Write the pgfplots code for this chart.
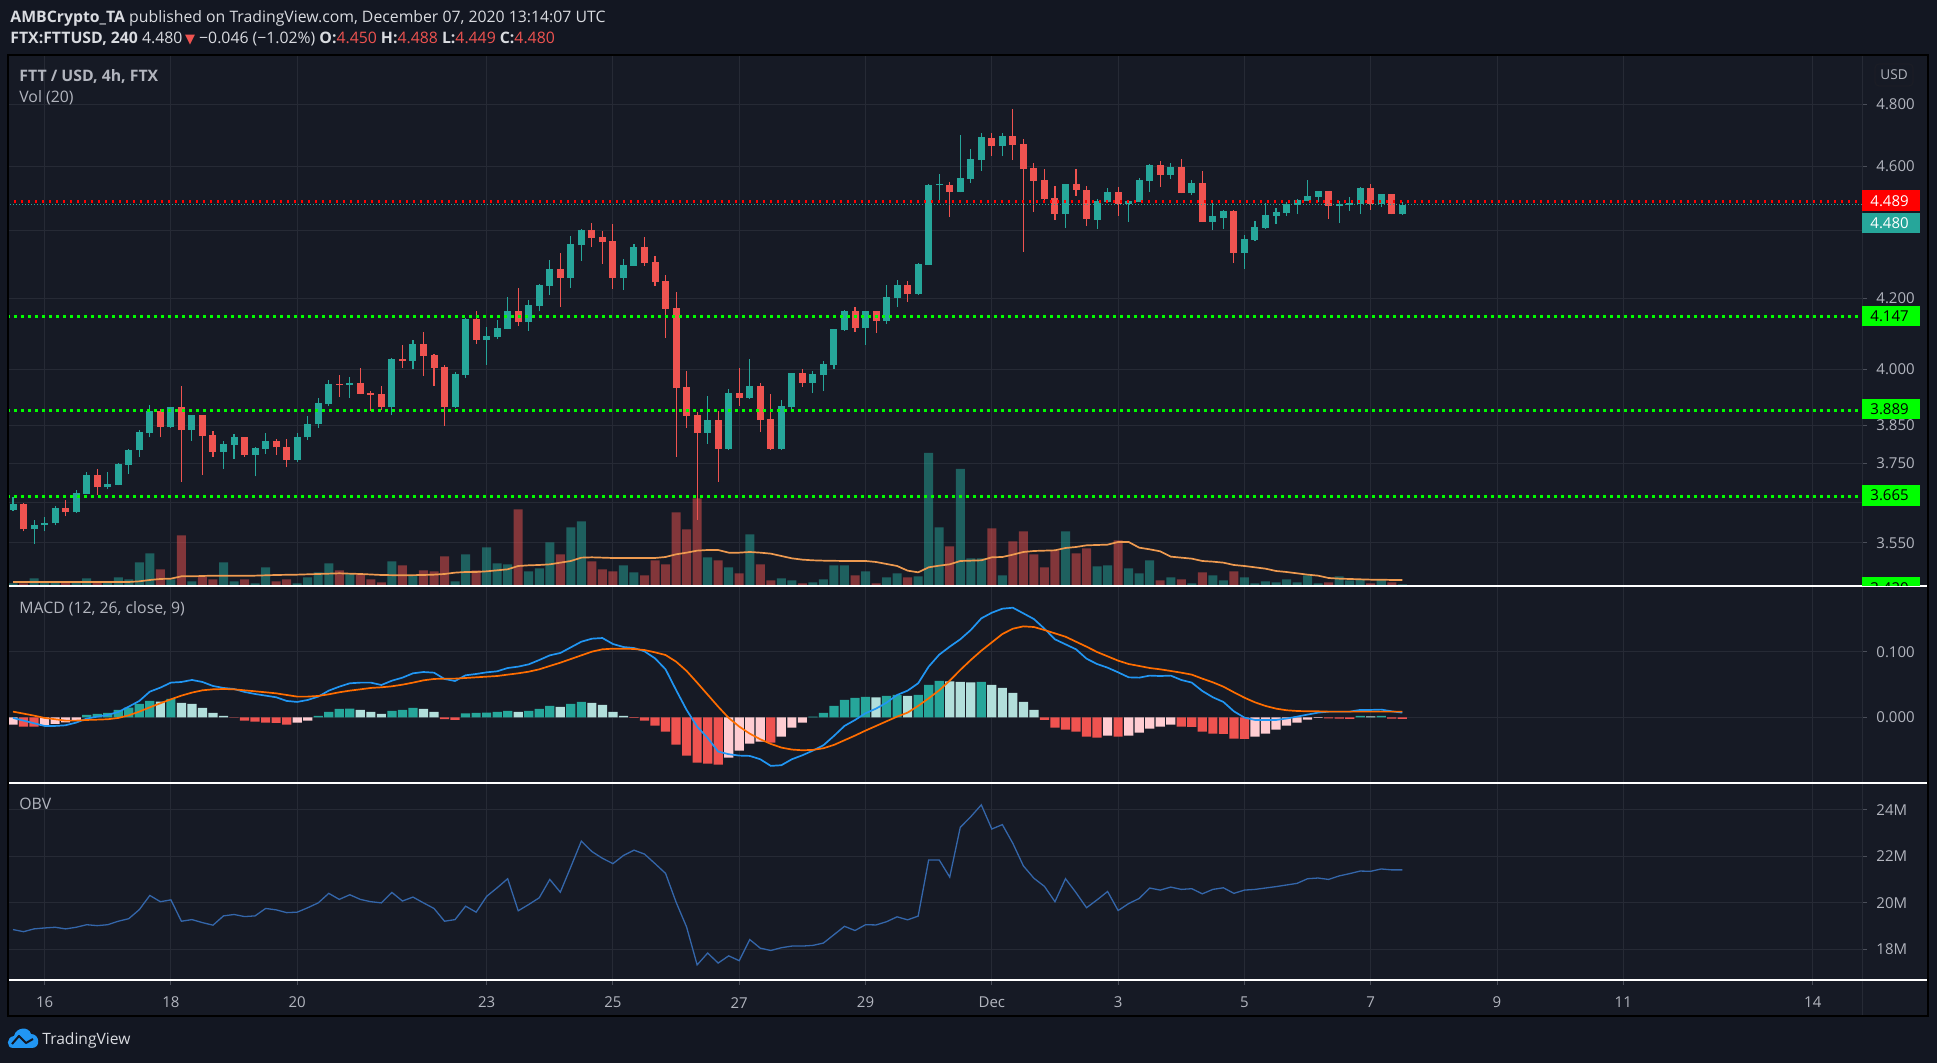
\documentclass[border=0pt]{standalone}
\usepackage{fontspec}
\setmainfont{Open Sans}
\newfontfamily\dejavu{DejaVu Sans}
\usepackage{pgfplots}
\usepackage{pgfplotstable}
\pgfplotsset{compat=1.18}

\definecolor{bgc}{HTML}{131722}
\definecolor{panec}{HTML}{161A25}
\definecolor{gridc}{HTML}{262A35}
\definecolor{tickc}{HTML}{4A4E59}
\definecolor{txtc}{HTML}{B2B5BE}
\definecolor{hdrc}{HTML}{D9DBE0}
\definecolor{upc}{HTML}{26A69A}
\definecolor{dnc}{HTML}{EF5350}
\definecolor{hgc}{HTML}{26A69A}
\definecolor{hlc}{HTML}{B2DFDB}
\definecolor{hpc}{HTML}{FFCDD2}
\definecolor{hrc}{HTML}{EF5350}
\definecolor{macdc}{HTML}{2196F3}
\definecolor{sigc}{HTML}{FF6D00}
\definecolor{obvc}{HTML}{3466AA}
\definecolor{vmac}{HTML}{EE9A50}
\definecolor{lvlc}{HTML}{00FF00}
\definecolor{redl}{HTML}{FF0000}
\definecolor{logoc}{HTML}{2196F3}

% up candles: k = 4h bars from 16 Nov 00:00, o h l c, v = volume (arbitrary units)
\pgfplotstableread{
k o h l c v
-3 3.632 3.663 3.629 3.646 8
-1 3.583 3.607 3.548 3.594 23
0 3.593 3.614 3.578 3.599 10
1 3.598 3.642 3.593 3.636 10
3 3.625 3.681 3.624 3.674 10
4 3.672 3.727 3.671 3.720 23
6 3.688 3.727 3.684 3.697 10
7 3.695 3.751 3.693 3.748 26
8 3.746 3.787 3.723 3.784 20
9 3.783 3.837 3.767 3.831 71
10 3.830 3.903 3.817 3.887 98
12 3.845 3.899 3.843 3.897 20
14 3.838 3.877 3.809 3.876 14
17 3.780 3.808 3.736 3.800 71
18 3.798 3.826 3.762 3.818 14
20 3.772 3.793 3.716 3.790 8
21 3.788 3.829 3.775 3.808 56
24 3.759 3.829 3.754 3.818 8
25 3.817 3.874 3.811 3.853 26
26 3.851 3.922 3.843 3.909 41
27 3.906 3.971 3.901 3.960 68
29 3.958 3.979 3.922 3.963 38
33 3.898 4.031 3.877 4.028 74
35 4.023 4.081 4.001 4.070 32
39 3.898 3.993 3.895 3.987 14
40 3.985 4.144 3.976 4.141 95
42 4.081 4.118 4.012 4.093 116
43 4.090 4.138 4.084 4.115 68
44 4.112 4.204 4.111 4.164 65
46 4.132 4.196 4.107 4.181 44
47 4.178 4.242 4.163 4.239 53
48 4.236 4.312 4.210 4.286 131
50 4.260 4.384 4.231 4.360 176
51 4.357 4.405 4.310 4.402 194
55 4.259 4.316 4.225 4.298 62
56 4.295 4.360 4.294 4.351 41
63 3.829 3.927 3.800 3.863 86
65 3.787 3.946 3.784 3.935 56
67 3.922 4.028 3.920 3.955 155
70 3.787 3.917 3.784 3.901 23
71 3.898 3.991 3.887 3.990 17
73 3.963 3.996 3.935 3.987 11
74 3.985 4.023 3.941 4.015 20
75 4.012 4.113 4.001 4.112 62
76 4.109 4.167 4.107 4.164 62
78 4.115 4.165 4.068 4.164 44
80 4.135 4.239 4.126 4.204 26
81 4.201 4.254 4.175 4.239 38
83 4.213 4.304 4.210 4.301 29
84 4.298 4.543 4.297 4.541 399
85 4.540 4.576 4.491 4.543 176
87 4.519 4.700 4.518 4.563 351
88 4.561 4.655 4.547 4.622 83
89 4.619 4.706 4.585 4.693 83
91 4.664 4.706 4.632 4.696 32
97 4.451 4.545 4.408 4.544 164
100 4.433 4.498 4.405 4.491 59
101 4.488 4.532 4.487 4.519 62
103 4.482 4.495 4.427 4.491 53
104 4.488 4.563 4.487 4.557 38
105 4.554 4.607 4.519 4.604 77
107 4.572 4.610 4.560 4.597 26
109 4.516 4.557 4.510 4.547 8
111 4.427 4.491 4.402 4.445 32
112 4.439 4.464 4.405 4.461 17
114 4.334 4.387 4.286 4.375 26
115 4.372 4.430 4.369 4.411 8
116 4.408 4.485 4.405 4.448 14
117 4.445 4.470 4.420 4.457 11
118 4.454 4.488 4.445 4.482 20
119 4.479 4.498 4.451 4.495 11
120 4.491 4.557 4.490 4.507 32
121 4.504 4.523 4.488 4.522 8
123 4.476 4.491 4.423 4.482 29
124 4.479 4.504 4.461 4.485 17
125 4.482 4.535 4.451 4.532 20
127 4.482 4.514 4.473 4.513 20
129 4.450 4.488 4.449 4.480 5
}\tblup

\pgfplotstableread{
k o h l c v
-2 3.646 3.648 3.578 3.583 8
2 3.636 3.656 3.615 3.625 10
5 3.720 3.735 3.669 3.688 11
11 3.887 3.893 3.817 3.845 50
13 3.897 3.955 3.703 3.838 152
15 3.876 3.877 3.721 3.822 28
16 3.824 3.834 3.767 3.780 20
19 3.818 3.819 3.767 3.772 20
22 3.808 3.813 3.772 3.791 14
23 3.792 3.813 3.739 3.759 20
28 3.960 3.985 3.925 3.957 47
30 3.963 4.004 3.932 3.933 35
31 3.935 3.941 3.887 3.930 20
32 3.933 3.955 3.890 3.898 11
34 4.028 4.068 4.004 4.023 62
36 4.070 4.104 3.982 4.037 47
37 4.040 4.041 3.955 4.004 44
38 4.006 4.012 3.847 3.898 89
41 4.141 4.164 4.070 4.081 47
45 4.164 4.231 4.121 4.132 230
49 4.286 4.334 4.175 4.260 95
52 4.402 4.423 4.351 4.378 74
53 4.381 4.399 4.301 4.366 50
54 4.369 4.420 4.228 4.259 44
57 4.351 4.381 4.295 4.304 32
58 4.307 4.325 4.236 4.248 77
59 4.251 4.269 4.087 4.170 65
60 4.173 4.220 3.766 3.949 221
61 3.952 3.996 3.842 3.874 170
62 3.877 3.885 3.607 3.829 263
64 3.863 3.887 3.702 3.787 77
66 3.935 4.004 3.901 3.922 38
68 3.955 3.963 3.831 3.863 65
69 3.866 3.933 3.784 3.787 17
72 3.990 4.001 3.952 3.963 8
77 4.164 4.175 4.104 4.115 32
79 4.164 4.165 4.101 4.135 8
82 4.239 4.251 4.190 4.213 26
86 4.541 4.551 4.442 4.519 119
90 4.690 4.706 4.632 4.664 173
92 4.696 4.785 4.619 4.668 134
93 4.671 4.687 4.337 4.591 164
94 4.594 4.610 4.457 4.554 95
95 4.557 4.591 4.488 4.498 56
96 4.501 4.538 4.433 4.451 107
98 4.544 4.591 4.507 4.526 98
99 4.526 4.538 4.414 4.436 113
102 4.519 4.535 4.445 4.482 137
106 4.604 4.616 4.535 4.572 17
108 4.597 4.622 4.515 4.516 20
110 4.547 4.585 4.426 4.427 41
113 4.461 4.462 4.304 4.334 44
122 4.522 4.523 4.436 4.476 11
126 4.532 4.544 4.464 4.482 8
128 4.513 4.514 4.450 4.451 11
}\tbldn

\pgfplotstableread{
k ma
-3 12
0 12
3 12
6 12
8 12
9 14
10 18
11 21
12 22
13 29
14 29
16 31
18 31
20 31
22 33
24 34
26 36
28 38
30 36
32 33
34 32
36 33
37 34
38 36
39 40
40 42
41 42
42 44
43 47
44 50
45 60
46 62
47 63
48 65
49 70
50 75
51 85
52 86
54 84
56 84
58 84
59 87
60 95
61 100
62 106
63 108
64 108
65 100
66 100
67 102
68 100
69 97
70 90
71 83
72 79
73 77
74 76
76 75
78 75
79 72
80 66
81 60
82 46
83 41
84 56
85 61
86 65
87 75
88 76
89 77
90 86
91 87
92 94
93 102
94 105
95 106
96 107
97 114
98 117
99 122
100 123
101 124
102 132
103 132
104 115
105 110
106 104
107 88
108 85
109 82
110 75
111 73
112 70
113 63
114 60
115 56
116 52
117 45
118 42
119 38
120 34
121 31
122 24
123 22
124 21
125 20
126 19
127 19
128 18
129 18
}\tblvma

\pgfplotstableread{
k m s
-3 -0.0010 0.0086
-2 -0.0051 0.0056
-1 -0.0091 0.0025
0 -0.0132 -0.0010
1 -0.0132 -0.0030
2 -0.0122 -0.0051
3 -0.0081 -0.0051
4 -0.0020 -0.0041
5 0.0010 -0.0036
6 0.0036 -0.0030
7 0.0081 -0.0010
8 0.0162 0.0030
9 0.0249 0.0086
10 0.0391 0.0152
11 0.0452 0.0213
12 0.0528 0.0274
13 0.0538 0.0330
14 0.0569 0.0376
15 0.0538 0.0411
16 0.0477 0.0426
17 0.0447 0.0431
18 0.0431 0.0426
19 0.0386 0.0411
20 0.0355 0.0396
21 0.0330 0.0381
22 0.0305 0.0365
23 0.0249 0.0340
24 0.0234 0.0315
25 0.0264 0.0315
26 0.0315 0.0325
27 0.0406 0.0350
28 0.0467 0.0381
29 0.0518 0.0406
30 0.0528 0.0426
31 0.0528 0.0447
32 0.0492 0.0457
33 0.0558 0.0472
34 0.0604 0.0497
35 0.0670 0.0528
36 0.0690 0.0563
37 0.0680 0.0584
38 0.0584 0.0589
39 0.0553 0.0589
40 0.0640 0.0599
41 0.0660 0.0609
42 0.0685 0.0619
43 0.0701 0.0629
44 0.0751 0.0650
45 0.0772 0.0670
46 0.0807 0.0695
47 0.0873 0.0731
48 0.0944 0.0782
49 0.0980 0.0832
50 0.1066 0.0888
51 0.1152 0.0944
52 0.1198 0.1000
53 0.1208 0.1036
54 0.1117 0.1046
55 0.1071 0.1046
56 0.1056 0.1041
57 0.1005 0.1025
58 0.0898 0.0990
59 0.0731 0.0949
60 0.0416 0.0848
61 0.0112 0.0706
62 -0.0142 0.0528
63 -0.0315 0.0345
64 -0.0523 0.0162
65 -0.0563 -0.0010
66 -0.0584 -0.0142
67 -0.0589 -0.0249
68 -0.0640 -0.0335
69 -0.0741 -0.0406
70 -0.0731 -0.0462
71 -0.0640 -0.0492
72 -0.0579 -0.0503
73 -0.0508 -0.0497
74 -0.0426 -0.0472
75 -0.0284 -0.0421
76 -0.0132 -0.0350
77 -0.0041 -0.0279
78 0.0061 -0.0203
79 0.0132 -0.0132
80 0.0223 -0.0061
81 0.0340 0.0010
82 0.0406 0.0071
83 0.0518 0.0173
84 0.0772 0.0289
85 0.0954 0.0411
86 0.1076 0.0558
87 0.1188 0.0721
88 0.1330 0.0873
89 0.1508 0.1015
90 0.1594 0.1142
91 0.1655 0.1269
92 0.1670 0.1350
93 0.1584 0.1386
94 0.1497 0.1376
95 0.1350 0.1330
96 0.1188 0.1279
97 0.1112 0.1228
98 0.1036 0.1152
99 0.0893 0.1076
100 0.0812 0.0995
101 0.0756 0.0929
102 0.0685 0.0863
103 0.0609 0.0812
104 0.0604 0.0782
105 0.0635 0.0751
106 0.0629 0.0731
107 0.0635 0.0706
108 0.0569 0.0680
109 0.0528 0.0650
110 0.0401 0.0589
111 0.0305 0.0533
112 0.0234 0.0467
113 0.0091 0.0381
114 -0.0005 0.0299
115 -0.0041 0.0228
116 -0.0041 0.0173
117 -0.0041 0.0132
118 -0.0020 0.0107
119 0.0010 0.0096
120 0.0041 0.0091
121 0.0071 0.0091
122 0.0086 0.0086
123 0.0086 0.0086
124 0.0086 0.0086
125 0.0112 0.0086
126 0.0112 0.0086
127 0.0117 0.0086
128 0.0091 0.0086
129 0.0071 0.0086
}\tblmacd

% histogram: g = rising above 0, l = falling above 0, p = rising below 0, r = falling below 0
\pgfplotstableread{
k g l p r
-3 nan nan -0.0112 nan
-2 nan nan nan -0.0142
-1 nan nan nan -0.0142
0 nan nan -0.0132 nan
1 nan nan -0.0102 nan
2 nan nan -0.0076 nan
3 nan nan -0.0041 nan
4 0.0036 nan nan nan
5 0.0051 nan nan nan
6 0.0066 nan nan nan
7 0.0112 nan nan nan
8 0.0147 nan nan nan
9 0.0203 nan nan nan
10 0.0249 nan nan nan
11 nan 0.0239 nan nan
12 0.0279 nan nan nan
13 nan 0.0218 nan nan
14 nan 0.0203 nan nan
15 nan 0.0142 nan nan
16 nan 0.0066 nan nan
17 nan 0.0020 nan nan
18 nan nan nan -0.0005
19 nan nan nan -0.0051
20 nan nan nan -0.0066
21 nan nan nan -0.0081
22 nan nan nan -0.0086
23 nan nan nan -0.0112
24 nan nan -0.0081 nan
25 nan nan -0.0051 nan
26 0.0020 nan nan nan
27 0.0081 nan nan nan
28 0.0127 nan nan nan
29 0.0132 nan nan nan
30 nan 0.0112 nan nan
31 nan 0.0081 nan nan
32 nan 0.0051 nan nan
33 0.0096 nan nan nan
34 0.0112 nan nan nan
35 0.0142 nan nan nan
36 nan 0.0127 nan nan
37 nan 0.0081 nan nan
38 nan nan nan -0.0030
39 nan nan nan -0.0041
40 0.0061 nan nan nan
41 0.0066 nan nan nan
42 0.0071 nan nan nan
43 0.0081 nan nan nan
44 0.0096 nan nan nan
45 nan 0.0081 nan nan
46 0.0096 nan nan nan
47 0.0127 nan nan nan
48 0.0173 nan nan nan
49 nan 0.0157 nan nan
50 0.0203 nan nan nan
51 0.0234 nan nan nan
52 nan 0.0218 nan nan
53 nan 0.0188 nan nan
54 nan 0.0081 nan nan
55 nan 0.0020 nan nan
56 nan nan nan -0.0010
57 nan nan nan -0.0051
58 nan nan nan -0.0127
59 nan nan nan -0.0218
60 nan nan nan -0.0416
61 nan nan nan -0.0584
62 nan nan nan -0.0691
63 nan nan nan -0.0706
64 nan nan nan -0.0721
65 nan nan -0.0615 nan
66 nan nan -0.0508 nan
67 nan nan -0.0401 nan
68 nan nan -0.0371 nan
69 nan nan nan -0.0386
70 nan nan -0.0295 nan
71 nan nan -0.0157 nan
72 nan nan -0.0081 nan
73 0.0010 nan nan nan
74 0.0066 nan nan nan
75 0.0173 nan nan nan
76 0.0264 nan nan nan
77 0.0295 nan nan nan
78 0.0310 nan nan nan
79 nan 0.0305 nan nan
80 0.0325 nan nan nan
81 0.0340 nan nan nan
82 nan 0.0325 nan nan
83 0.0340 nan nan nan
84 0.0493 nan nan nan
85 0.0554 nan nan nan
86 nan 0.0549 nan nan
87 nan 0.0538 nan nan
88 nan 0.0533 nan nan
89 0.0538 nan nan nan
90 nan 0.0493 nan nan
91 nan 0.0447 nan nan
92 nan 0.0371 nan nan
93 nan 0.0234 nan nan
94 nan 0.0112 nan nan
95 nan nan nan -0.0041
96 nan nan nan -0.0157
97 nan nan nan -0.0188
98 nan nan nan -0.0218
99 nan nan nan -0.0295
100 nan nan nan -0.0310
101 nan nan -0.0279 nan
102 nan nan nan -0.0295
103 nan nan -0.0279 nan
104 nan nan -0.0234 nan
105 nan nan -0.0173 nan
106 nan nan -0.0142 nan
107 nan nan -0.0112 nan
108 nan nan nan -0.0142
109 nan nan nan -0.0147
110 nan nan nan -0.0218
111 nan nan nan -0.0249
112 nan nan nan -0.0254
113 nan nan nan -0.0325
114 nan nan nan -0.0330
115 nan nan -0.0295 nan
116 nan nan -0.0249 nan
117 nan nan -0.0188 nan
118 nan nan -0.0127 nan
119 nan nan -0.0081 nan
120 nan nan -0.0036 nan
121 nan nan -0.0010 nan
122 nan nan nan -0.0015
123 nan nan nan -0.0020
124 nan nan nan -0.0025
125 0.0020 nan nan nan
126 nan 0.0015 nan nan
127 0.0020 nan nan nan
128 nan nan nan -0.0020
129 nan nan nan -0.0025
}\tblhist

\pgfplotstableread{
k v
-3 18.85
-2 18.76
-1 18.88
0 18.92
1 18.95
2 18.88
3 18.95
4 19.06
5 19.02
6 19.06
7 19.21
8 19.32
9 19.71
10 20.32
11 20.05
12 20.13
13 19.21
14 19.28
15 19.15
16 19.04
17 19.44
18 19.50
19 19.41
20 19.44
21 19.76
22 19.70
23 19.58
24 19.60
25 19.79
26 20.00
27 20.41
28 20.15
29 20.35
30 20.15
31 20.05
32 20.00
33 20.45
34 20.08
35 20.25
36 20.00
37 19.76
38 19.21
39 19.28
40 19.86
41 19.60
42 20.28
43 20.65
44 21.04
45 19.66
46 19.93
47 20.22
48 21.01
49 20.46
50 21.55
51 22.66
52 22.21
53 21.92
54 21.69
55 22.04
56 22.27
57 22.10
58 21.69
59 21.27
60 20.03
61 18.96
62 17.33
63 17.84
64 17.41
65 17.72
66 17.51
67 18.42
68 18.05
69 17.95
70 18.07
71 18.14
72 18.14
73 18.17
74 18.27
75 18.63
76 18.99
77 18.81
78 19.06
79 19.05
80 19.19
81 19.40
82 19.27
83 19.43
84 21.85
85 21.85
86 21.11
87 23.25
88 23.71
89 24.22
90 23.18
91 23.37
92 22.56
93 21.59
94 21.06
95 20.71
96 20.05
97 21.04
98 20.44
99 19.79
100 20.13
101 20.49
102 19.67
103 19.97
104 20.19
105 20.64
106 20.55
107 20.68
108 20.58
109 20.61
110 20.39
111 20.58
112 20.65
113 20.41
114 20.55
115 20.58
116 20.64
117 20.70
118 20.77
119 20.84
120 21.04
121 21.07
122 21.01
123 21.16
124 21.26
125 21.37
126 21.36
127 21.46
128 21.42
129 21.42
}\tblobv

\pgfplotsset{
  tv/.style={
    scale only axis, width=927.5pt,
    xmin=-3.572, xmax=172.68,
    axis line style={draw=none},
    xtick={0,12,24,42,54,66,78,90,102,114,126,138,150,168},
    xticklabels={},
    xmajorgrids, ymajorgrids,
    grid style={gridc, line width=0.5pt},
    tick align=outside, major tick length=2.5pt,
    ytick style={tickc, line width=0.5pt},
    ytick pos=right, yticklabel pos=right,
    yticklabel style={font=\fontsize{7.5}{8}\selectfont, text=txtc, anchor=west, inner sep=0pt, xshift=4.5pt},
  },
  ov/.style={scale only axis, width=927.5pt, xmin=-3.572, xmax=172.68, hide axis},
  wick/.style={only marks, mark=*, mark size=0.1pt, mark options={draw opacity=0, fill opacity=0},
    error bars/y dir=plus, error bars/y explicit, error bars/error mark=none,
    error bars/error bar style={line width=0.55pt, draw=#1, draw opacity=1}},
  body/.style={only marks, mark=*, mark size=0.1pt, mark options={draw opacity=0, fill opacity=0},
    error bars/y dir=plus, error bars/y explicit, error bars/error mark=none,
    error bars/error bar style={line width=3.5pt, draw=#1, draw opacity=1}},
}

\begin{document}
\begin{tikzpicture}
% ---------- backgrounds ----------
\begin{scope}[shift={(0pt,531.5pt)}, x=0.5pt, y=-0.5pt]
  \fill[bgc] (0,0) rectangle (1937,1063);
  \fill[panec] (8,55) rectangle (1928,1016);
\end{scope}

% ---------- price pane: grid and scale ----------
\begin{axis}[tv, ymode=log, ymin=3.446, ymax=4.966, at={(3.5pt,238.5pt)}, anchor=south west, height=265.5pt,
  xtick style={draw=none},
  ytick={3.55,3.65,3.75,3.85,4.0,4.2,4.4,4.6,4.8},
  yticklabels={3.550,{},3.750,3.850,4.000,4.200,{},4.600,4.800}]
  \addplot[draw=none] coordinates {(0,4)};
\end{axis}

% ---------- volume ----------
\begin{axis}[ov, at={(3.5pt,238.5pt)}, anchor=south west, height=265.5pt, ymin=0, ymax=1593]
  \addplot[ybar, bar width=4.5pt, bar shift=0pt, draw=none, fill=upc, fill opacity=0.5] table[x=k, y=v] {\tblup};
  \addplot[ybar, bar width=4.5pt, bar shift=0pt, draw=none, fill=dnc, fill opacity=0.5] table[x=k, y=v] {\tbldn};
  \addplot[vmac, line width=0.85pt, mark=none] table[x=k, y=ma] {\tblvma};
\end{axis}

% ---------- candles and levels ----------
\begin{axis}[ov, ymode=log, ymin=3.446, ymax=4.966, at={(3.5pt,238.5pt)}, anchor=south west, height=265.5pt]
  \addplot[wick=upc] table[x=k, y=l, y error expr=\thisrow{h}-\thisrow{l}] {\tblup};
  \addplot[wick=dnc] table[x=k, y=l, y error expr=\thisrow{h}-\thisrow{l}] {\tbldn};
  \addplot[body=upc] table[x=k, y=o, y error expr=\thisrow{c}-\thisrow{o}] {\tblup};
  \addplot[body=dnc] table[x=k, y=c, y error expr=\thisrow{o}-\thisrow{c}] {\tbldn};
  \addplot[lvlc, line width=1.5pt, dash pattern=on 1.5pt off 2pt] coordinates {(-3.572,4.147) (172.68,4.147)};
  \addplot[lvlc, line width=1.5pt, dash pattern=on 1.5pt off 2pt] coordinates {(-3.572,3.889) (172.68,3.889)};
  \addplot[lvlc, line width=1.5pt, dash pattern=on 1.5pt off 2pt] coordinates {(-3.572,3.665) (172.68,3.665)};
  \addplot[redl, line width=1.2pt, dash pattern=on 1.2pt off 2.3pt] coordinates {(-3.572,4.489) (172.68,4.489)};
  \addplot[upc, line width=0.5pt, dash pattern=on 0.5pt off 1pt] coordinates {(-3.572,4.480) (172.68,4.480)};
\end{axis}

% ---------- MACD ----------
\begin{axis}[tv, at={(3.5pt,140.25pt)}, anchor=south west, height=97.75pt,
  xtick style={draw=none},
  ymin=-0.0994, ymax=0.1986, ytick={0,0.1}, yticklabels={0.000,0.100}]
  \addplot[ybar, bar width=4.6pt, bar shift=0pt, draw=none, fill=hgc] table[x=k, y=g] {\tblhist};
  \addplot[ybar, bar width=4.6pt, bar shift=0pt, draw=none, fill=hlc] table[x=k, y=l] {\tblhist};
  \addplot[ybar, bar width=4.6pt, bar shift=0pt, draw=none, fill=hpc] table[x=k, y=p] {\tblhist};
  \addplot[ybar, bar width=4.6pt, bar shift=0pt, draw=none, fill=hrc] table[x=k, y=r] {\tblhist};
  \addplot[macdc, line width=0.85pt, mark=none] table[x=k, y=m] {\tblmacd};
  \addplot[sigc, line width=0.85pt, mark=none] table[x=k, y=s] {\tblmacd};
\end{axis}

% ---------- OBV ----------
\begin{axis}[tv, at={(3.5pt,41.5pt)}, anchor=south west, height=98.25pt,
  ymin=16.68, ymax=25.14, ytick={18,20,22,24}, yticklabels={18M,20M,22M,24M},
  xtick pos=left, xtick style={tickc, line width=0.5pt},
  xticklabels={16,18,20,23,25,27,29,Dec,3,5,7,9,11,14},
  xticklabel style={font=\fontsize{7.5}{8}\selectfont, text=txtc, anchor=center, yshift=-8.8pt}]
  \addplot[obvc, line width=0.65pt, mark=none] table[x=k, y=v] {\tblobv};
\end{axis}

% ---------- overlay: separators, labels, boxes ----------
\begin{scope}[shift={(0pt,531.5pt)}, x=0.5pt, y=-0.5pt]
  \draw[gridc, line width=0.5pt] (1862,55) -- (1862,1016);
  \draw[white, line width=0.7pt] (8,586) -- (1928,586);
  \draw[white, line width=0.7pt] (8,783) -- (1928,783);
  \draw[white, line width=0.7pt] (8,980) -- (1928,980);
  \draw[black, line width=0.6pt] (8,55) rectangle (1928,1016);

  % header
  \node[anchor=west, inner sep=0pt, text=hdrc, font=\fontsize{7.9}{9}\selectfont] at (10,18)
    {{\bfseries AMBCrypto\_TA} published on TradingView.com, December 07, 2020 13:14:07 UTC};
  \node[anchor=west, inner sep=0pt, text=hdrc, font=\fontsize{7.9}{9}\selectfont] at (10,39.5)
    {{\bfseries FTX:FTTUSD, 240} 4.480\,{\color{dnc}\dejavu\fontsize{6.5}{7}\selectfont ▼} −0.046 (−1.02\%) {\bfseries O:}{\color{dnc}4.450} {\bfseries H:}{\color{dnc}4.488} {\bfseries L:}{\color{dnc}4.449} {\bfseries C:}{\color{dnc}4.480}};

  % pane titles
  \node[anchor=west, inner sep=0pt, text=txtc, font=\fontsize{7.9}{9}\selectfont\bfseries] at (19,77) {FTT / USD, 4h, FTX};
  \node[anchor=west, inner sep=0pt, text=txtc, font=\fontsize{7.9}{9}\selectfont] at (19,98) {Vol (20)};
  \node[anchor=west, inner sep=0pt, text=txtc, font=\fontsize{7.9}{9}\selectfont] at (19,609) {MACD (12, 26, close, 9)};
  \node[anchor=west, inner sep=0pt, text=txtc, font=\fontsize{7.9}{9}\selectfont] at (19,804) {OBV};

  % USD box
  \draw[black!30!gridc, line width=0.6pt, rounded corners=2pt] (1875,64) rectangle (1913,86);
  \node[text=txtc, font=\fontsize{6.8}{8}\selectfont, inner sep=0pt] at (1894,75) {USD};

  % price labels
  \fill[redl] (1862,190.5) rectangle (1920,211);
  \node[anchor=west, inner sep=0pt, text=white, font=\fontsize{7.5}{8}\selectfont] at (1870,201) {4.489};
  \fill[upc] (1862,213) rectangle (1920,233.5);
  \node[anchor=west, inner sep=0pt, text=white, font=\fontsize{7.5}{8}\selectfont] at (1870,223.3) {4.480};
  \foreach \yy/\tt in {316.3/4.147, 409.2/3.889, 495.5/3.665}{
    \fill[lvlc] (1862,\yy-10.2) rectangle (1920,\yy+10.2);
    \node[anchor=west, inner sep=0pt, text=black, font=\fontsize{7.5}{8}\selectfont] at (1870,\yy) {\tt};
  }
  \begin{scope}
    \clip (1862,570) rectangle (1925,585.5);
    \fill[lvlc] (1862,577.5) rectangle (1920,598);
    \node[anchor=west, inner sep=0pt, text=black, font=\fontsize{7.5}{8}\selectfont] at (1870,587.8) {3.420};
  \end{scope}

  % bottom logo
  \fill[logoc] (13,1048) .. controls (6,1048) and (6,1037) .. (14,1036)
     .. controls (16,1027) and (29,1026) .. (31,1034)
     .. controls (40,1034) and (41,1048) .. (32,1048) -- cycle;
  \draw[bgc, line width=1pt, line join=round] (12,1044) -- (19,1036) -- (26,1043) -- (33,1039);
  \node[anchor=west, inner sep=0pt, text=hdrc, font=\fontsize{7.8}{9}\selectfont] at (42,1040) {TradingView};
\end{scope}
\pgfresetboundingbox
\path (0,0) rectangle (968.5pt,531.5pt);
\end{tikzpicture}
\end{document}
